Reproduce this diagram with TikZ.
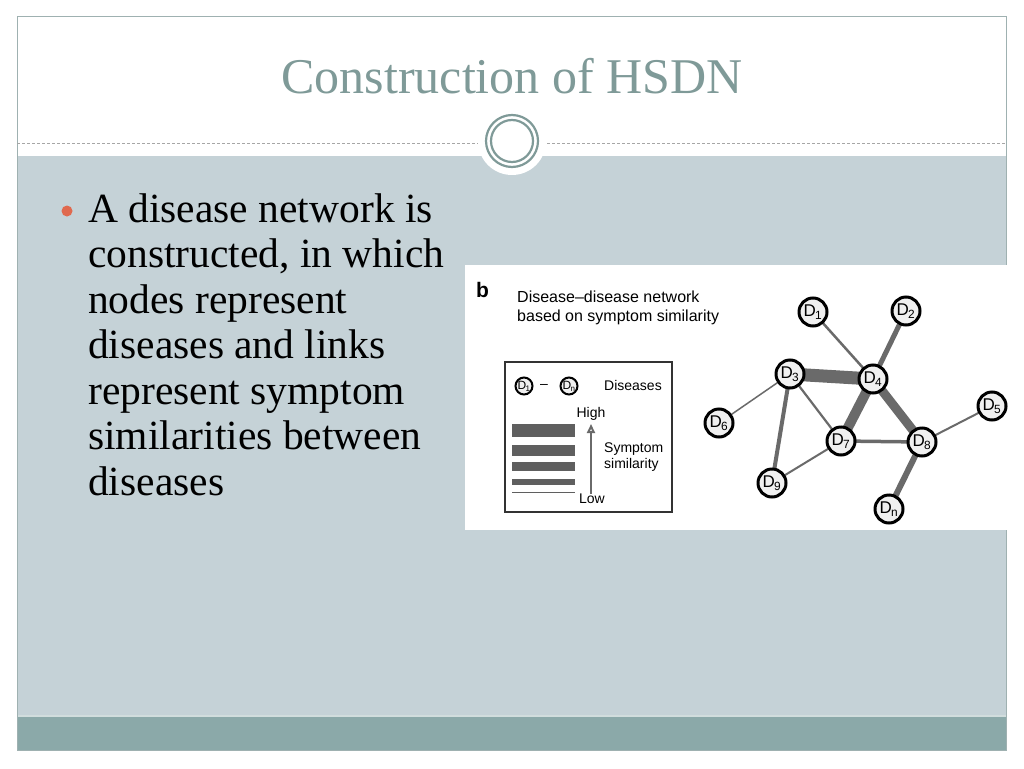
\documentclass[tikz,border=0pt]{standalone}
\usepackage{fontspec}
\setmainfont{Liberation Serif}
\setsansfont{Liberation Sans}
\usetikzlibrary{positioning}
\usetikzlibrary{arrows.meta}
\definecolor{slidegray}{HTML}{C5D2D7}
\definecolor{bandteal}{HTML}{8BA9A9}
\definecolor{titleteal}{HTML}{7F9A98}
\definecolor{framegray}{HTML}{9FB1B1}
\definecolor{bulletred}{HTML}{E0694E}
\definecolor{linkgray}{HTML}{6A6A6A}
\pgfdeclarelayer{back}
\pgfdeclarelayer{links}
\pgfsetlayers{back,links,main}
\newcommand{\dname}[1]{D\kern-0.05em\textsubscript{#1}}
\tikzset{x=1pt, y=-1pt, % one unit is one pixel of the slide
    disease/.style=
    { % Sets the properties for each disease node
        circle,
        draw=black,
        line width=3pt,
        fill=gray!12,
        minimum size=28pt,
        inner sep=0pt,
        font=\sffamily\fontsize{17}{17}\selectfont
    },
    smalldisease/.style={disease, line width=2pt, minimum size=17pt,
        font=\sffamily\fontsize{12}{12}\selectfont},
    link/.style={draw=linkgray, line width=#1}, % width shows the similarity
    simbar/.style={fill=linkgray!90!black, draw=none},
    panellabel/.style={font=\sffamily\fontsize{16}{19}\selectfont, anchor=base west, align=left, inner sep=0pt},
    legendtext/.style={font=\sffamily\fontsize{14}{16}\selectfont, inner sep=0pt, align=left}
}

\begin{document}
\begin{tikzpicture}
    \useasboundingbox (0,0) rectangle (1024,768);
    % slide background
    \begin{pgfonlayer}{back}
    \fill[white] (0,0) rectangle (1024,768);
    \fill[slidegray] (17,156) rectangle (1006,716);
    \fill[bandteal] (17,716) rectangle (1006,750);
    \draw[white!60!bandteal, line width=1.5pt] (17,716) -- (1006,716);
    \draw[framegray, line width=1pt] (17,17) rectangle (1006,750);
    \draw[gray!70, line width=0.8pt, dash pattern=on 3pt off 2pt] (17,143) -- (1006,143);
    \fill[white] (512,141) circle (34);
    \draw[titleteal, line width=2.2pt] (512,141) circle (26);
    \draw[titleteal, line width=2.2pt] (512,141) circle (21);
    \fill[white] (465,265) rectangle (1007,530);
    \end{pgfonlayer}

    \node[anchor=base, text=titleteal, font=\fontsize{50}{52}\selectfont, inner sep=0pt] (title) at (512,93) {Construction of HSDN};

    \fill[bulletred] (67,211) circle (5.5);
    % base of a multi-line node is its last line
    \node[anchor=base west, align=left, inner sep=0pt, font=\fontsize{41.5}{45.5}\selectfont] (body) at (88,495)
        {A disease network is\\ constructed, in which\\ nodes represent\\ diseases and links\\ represent symptom\\ similarities between\\ diseases};

    % panel b
    \node[font=\sffamily\bfseries\fontsize{21}{21}\selectfont, anchor=base west, inner sep=0pt] (blabel) at (476,297) {b};
    \node[panellabel] (ptitle) at (517,321) {Disease--disease network\\ based on symptom similarity};

    % legend
    \draw[black!80, line width=1.2pt] (505,362) rectangle (672,512);
    \node[smalldisease] (l1) at (524,386) {\dname{1}};
    \node[smalldisease] (ln) at (569,386) {\dname{n}};
    \node[legendtext] (dash) at (544,386) {--};
    \node[legendtext, anchor=base west] (ldis) at (604,390) {Diseases};
    \node[legendtext, anchor=base] (high) at (591,417) {High};
    \node[legendtext, anchor=base] (low) at (592,503) {Low};
    \node[legendtext, anchor=base west] (lsym) at (604,468) {Symptom\\ similarity};
    \coordinate (lowend) at (591,494);
    \coordinate (highend) at (591,424);
    \draw[linkgray, line width=2pt, -{Triangle[open, length=9pt, width=8pt]}] (lowend) -- (highend);
    \fill[simbar] (512,424) rectangle (575,437);
    \fill[simbar] (512,445) rectangle (575,456);
    \fill[simbar] (512,462) rectangle (575,471);
    \fill[simbar] (512,479) rectangle (575,485);
    \fill[simbar] (512,491.5) rectangle (575,493);

    % network
    \node[disease] (d1) at (813,312) {\dname{1}};
    \node[disease] (d2) at (906,311) {\dname{2}};
    \node[disease] (d3) at (790,374) {\dname{3}};
    \node[disease] (d4) at (873,379) {\dname{4}};
    \node[disease] (d5) at (992,406) {\dname{5}};
    \node[disease] (d6) at (719,423) {\dname{6}};
    \node[disease] (d7) at (841,441) {\dname{7}};
    \node[disease] (d8) at (922,442) {\dname{8}};
    \node[disease] (d9) at (772,483) {\dname{9}};
    \node[disease] (dn) at (889,509) {\dname{n}};

    \begin{pgfonlayer}{links}
    \draw[link=2.5pt] (d1.center) -- (d4.center);
    \draw[link=5pt] (d2.center) -- (d4.center);
    \draw[link=13pt] (d3.center) -- (d4.center);
    \draw[link=10pt] (d4.center) -- (d7.center);
    \draw[link=9pt] (d4.center) -- (d8.center);
    \draw[link=1.5pt] (d3.center) -- (d6.center);
    \draw[link=2.2pt] (d3.center) -- (d7.center);
    \draw[link=4pt] (d3.center) -- (d9.center);
    \draw[link=2pt] (d9.center) -- (d7.center);
    \draw[link=3.5pt] (d7.center) -- (d8.center);
    \draw[link=2pt] (d8.center) -- (d5.center);
    \draw[link=6pt] (d8.center) -- (dn.center);
    \end{pgfonlayer}
\end{tikzpicture}
\end{document}
